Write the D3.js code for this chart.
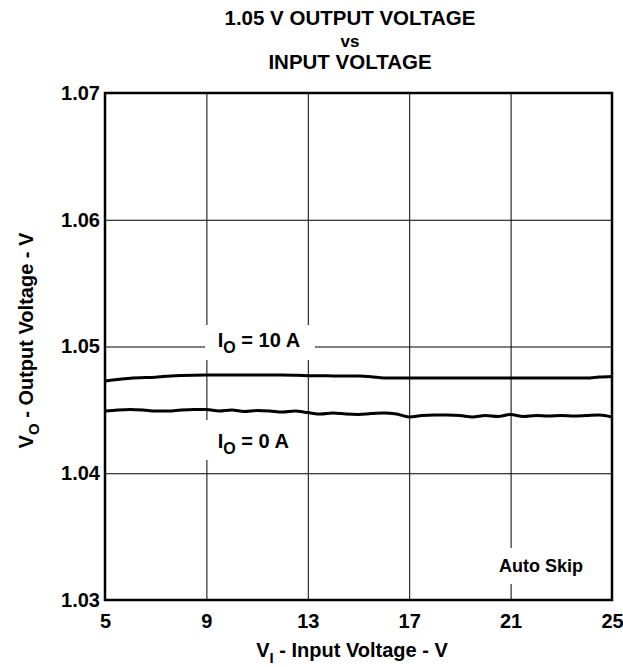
<!DOCTYPE html>
<html>
<head>
<meta charset="utf-8">
<script src="https://cdn.jsdelivr.net/npm/d3@7"></script>
<style>
  body { margin: 0; background: #fff; }
  svg { display: block; font-family: "Liberation Sans", Arial, sans-serif; font-weight: bold; }
</style>
</head>
<body>
<svg></svg>
<script>
// DATA *******************************
const xTicks = [5, 9, 13, 17, 21, 25]
const yTicks = [1.03, 1.04, 1.05, 1.06, 1.07]

const vin10A = [5, 5.5, 6, 7, 8, 9, 10, 11, 12, 13, 14, 15, 15.5, 16, 17, 18, 19, 20, 21, 22, 23, 24, 24.5, 25]
const vout10A = [1.04728, 1.04740, 1.04750, 1.04758, 1.04772, 1.04775, 1.04775, 1.04776, 1.04776, 1.04770,
  1.04768, 1.04767, 1.04762, 1.04752, 1.04751, 1.04751, 1.04751, 1.04751, 1.04751, 1.04751,
  1.04751, 1.04752, 1.04760, 1.04764]

const vin0A = [5, 5.5, 6, 6.5, 7, 7.5, 8, 8.5, 9, 9.5, 10, 10.5, 11, 11.5, 12, 12.5, 13, 13.5, 14, 14.5,
  15, 15.5, 16, 16.5, 17, 17.5, 18, 18.5, 19, 19.5, 20, 20.5, 21, 21.5, 22, 22.5, 23, 23.5, 24, 24.5, 25]
const vout0A = [1.04491, 1.04499, 1.04503, 1.04499, 1.04491, 1.04491, 1.04499, 1.04503, 1.04503, 1.04491,
  1.04499, 1.04487, 1.04495, 1.04491, 1.04483, 1.04491, 1.04479, 1.04467, 1.04475, 1.04467,
  1.04464, 1.04471, 1.04475, 1.04467, 1.04444, 1.04456, 1.04460, 1.04460, 1.04456, 1.04444,
  1.04456, 1.04448, 1.04464, 1.04448, 1.04456, 1.04452, 1.04456, 1.04452, 1.04456, 1.04460, 1.04444]

// CANVAS *******************************
const margin = { top: 93, right: 11, bottom: 67, left: 105 }
const width = 623 - margin.left - margin.right
const height = 667 - margin.top - margin.bottom

const svg = d3.select("svg")
  .attr("width", 623)
  .attr("height", 667)

const chart = svg.append("g")
  .attr("transform", `translate(${margin.left}, ${margin.top})`)

const xScale = d3.scaleLinear().domain([5, 25]).range([0, width])
const yScale = d3.scaleLinear().domain([1.03, 1.07]).range([height, 0])

// TITLE *******************************
const title = svg.append("g")
  .attr("text-anchor", "middle")
  .attr("font-size", 20.5)
title.append("text").attr("x", 350).attr("y", 25).text("1.05 V OUTPUT VOLTAGE")
title.append("text").attr("x", 350).attr("y", 47).attr("font-size", 17).text("vs")
title.append("text").attr("x", 350).attr("y", 69).text("INPUT VOLTAGE")

// GRID + AXES *******************************
const xAxis = chart.append("g")
  .attr("transform", `translate(0, ${height})`)
  .call(d3.axisBottom(xScale).tickValues(xTicks).tickSize(-height).tickPadding(14).tickFormat(d3.format("d")))
xAxis.select(".domain").remove()
xAxis.selectAll(".tick line").attr("stroke", "#000").attr("stroke-width", 1)
xAxis.selectAll(".tick text")
  .attr("fill", "#000")
  .attr("font-size", 20)
  .attr("font-family", "Liberation Sans, Arial, sans-serif")
  .attr("font-weight", "bold")

const yAxis = chart.append("g")
  .call(d3.axisLeft(yScale).tickValues(yTicks).tickSize(-width).tickPadding(5).tickFormat(d3.format(".2f")))
yAxis.select(".domain").remove()
yAxis.selectAll(".tick line").attr("stroke", "#000").attr("stroke-width", 1)
yAxis.selectAll(".tick text")
  .attr("fill", "#000")
  .attr("font-size", 20)
  .attr("font-family", "Liberation Sans, Arial, sans-serif")
  .attr("font-weight", "bold")

// DATA LINES *******************************
const line = d3.line()
  .x(d => xScale(d[0]))
  .y(d => yScale(d[1]))
  .curve(d3.curveMonotoneX)

chart.append("path")
  .datum(d3.zip(vin10A, vout10A))
  .attr("fill", "none")
  .attr("stroke", "#000")
  .attr("stroke-width", 3)
  .attr("d", line)

chart.append("path")
  .datum(d3.zip(vin0A, vout0A))
  .attr("fill", "none")
  .attr("stroke", "#000")
  .attr("stroke-width", 3)
  .attr("d", line)

// LABELS (white boxes hide the grid behind) *******************************
function subLabel(x, y, main, sub, rest, box) {
  chart.append("rect")
    .attr("x", box[0]).attr("y", box[1]).attr("width", box[2]).attr("height", box[3])
    .attr("fill", "#fff")
  const t = chart.append("text")
    .attr("x", x).attr("y", y)
    .attr("font-size", 20)
  t.append("tspan").text(main)
  t.append("tspan").attr("dy", 6).attr("font-size", 16).text(sub)
  t.append("tspan").attr("dy", -6).text(rest)
}

subLabel(xScale(9.45), yScale(1.07) + 254, "I", "O", " = 10 A", [100, 232, 110, 35])
subLabel(xScale(9.45), yScale(1.07) + 355, "I", "O", " = 0 A", [98, 327, 100, 40])

chart.append("rect")
  .attr("x", 390).attr("y", 455).attr("width", 95).attr("height", 36)
  .attr("fill", "#fff")
chart.append("text")
  .attr("x", xScale(22.2)).attr("y", yScale(1.03) - 28)
  .attr("text-anchor", "middle")
  .attr("font-size", 18)
  .text("Auto Skip")

// FRAME *******************************
chart.append("rect")
  .attr("width", width).attr("height", height)
  .attr("fill", "none")
  .attr("stroke", "#000")
  .attr("stroke-width", 2.5)

// AXIS TITLES *******************************
const xt = svg.append("text")
  .attr("x", 352).attr("y", 657)
  .attr("text-anchor", "middle")
  .attr("font-size", 20)
xt.append("tspan").text("V")
xt.append("tspan").attr("dy", 6).attr("font-size", 15).text("I")
xt.append("tspan").attr("dy", -6).text(" - Input Voltage - V")

const yt = svg.append("text")
  .attr("transform", `translate(33, ${margin.top + height / 2 - 6}) rotate(-90)`)
  .attr("text-anchor", "middle")
  .attr("font-size", 20)
yt.append("tspan").text("V")
yt.append("tspan").attr("dy", 6).attr("font-size", 15).text("O")
yt.append("tspan").attr("dy", -6).text(" - Output Voltage - V")
</script>
</body>
</html>
